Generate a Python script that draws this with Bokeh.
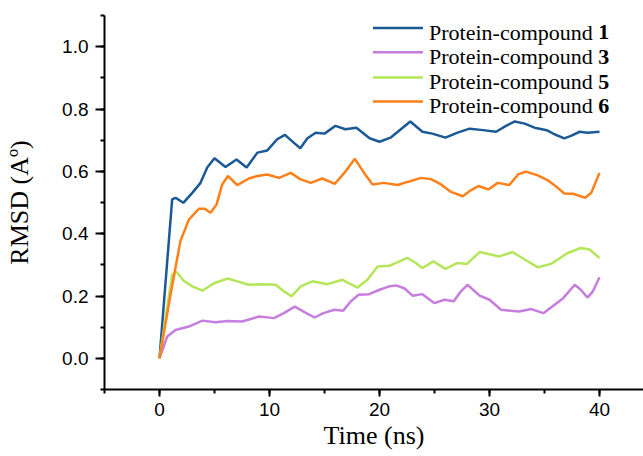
from bokeh.plotting import figure
from bokeh.models import Range1d, SingleIntervalTicker, PrintfTickFormatter, Label
from bokeh.embed import file_html
from bokeh.resources import INLINE

# ---- data ----
t1 = [0, 1.15, 1.46, 2.16, 2.98, 3.73, 4.34, 5.0, 6.0, 7.0, 7.92, 8.9, 9.8, 10.7, 11.4, 12.2, 12.8, 13.45,
      14.2, 15.0, 16.0, 16.9, 17.9, 19.1, 20.0, 21.0, 22.8, 23.9, 24.8, 26.0, 27.1, 28.2, 29.2, 30.6, 31.5,
      32.3, 33.2, 34.1, 35.2, 35.9, 36.8, 37.4, 38.2, 38.9, 40.0]
v1 = [0, 0.51, 0.515, 0.499, 0.531, 0.563, 0.612, 0.642, 0.614, 0.638, 0.612, 0.66, 0.667, 0.703, 0.717,
      0.692, 0.674, 0.706, 0.724, 0.721, 0.746, 0.735, 0.740, 0.706, 0.695, 0.708, 0.760, 0.727, 0.721, 0.708,
      0.724, 0.737, 0.733, 0.727, 0.746, 0.760, 0.753, 0.740, 0.732, 0.719, 0.706, 0.714, 0.727, 0.724, 0.727]

t3 = [0, 0.7, 1.46, 2.67, 3.9, 5.1, 6.2, 7.5, 9.04, 10.4, 11.3, 12.3, 13.1, 14.1, 14.9, 15.9, 16.7, 17.4,
      18.1, 19.06, 20.0, 20.9, 21.5, 22.25, 23.0, 23.9, 25.0, 25.9, 26.75, 27.4, 28.0, 29.1, 30.0, 31.05,
      32.7, 33.8, 34.9, 36.7, 37.75, 38.3, 38.9, 39.4, 40.0]
v3 = [0, 0.070, 0.091, 0.102, 0.121, 0.116, 0.120, 0.118, 0.134, 0.129, 0.145, 0.166, 0.150, 0.131, 0.145,
      0.156, 0.153, 0.183, 0.204, 0.206, 0.220, 0.231, 0.234, 0.225, 0.201, 0.206, 0.177, 0.188, 0.183,
      0.215, 0.236, 0.201, 0.188, 0.156, 0.150, 0.158, 0.145, 0.193, 0.236, 0.220, 0.195, 0.215, 0.260]

t5 = [0, 1.15, 1.55, 2.2, 2.98, 3.9, 4.95, 6.2, 7.07, 8.1, 9.35, 10.56, 11.3, 12.0, 12.84, 13.9, 15.27,
      16.64, 18.0, 18.9, 19.83, 20.9, 21.5, 22.55, 23.3, 23.9, 24.9, 26.0, 27.1, 27.96, 29.1, 30.9, 32.1,
      33.2, 34.4, 35.6, 37.1, 38.3, 39.1, 40.0]
v5 = [0, 0.268, 0.277, 0.249, 0.231, 0.217, 0.241, 0.256, 0.247, 0.236, 0.238, 0.236, 0.215, 0.199, 0.231,
      0.247, 0.238, 0.252, 0.227, 0.252, 0.295, 0.297, 0.306, 0.322, 0.306, 0.290, 0.311, 0.287, 0.306,
      0.303, 0.341, 0.327, 0.341, 0.317, 0.292, 0.303, 0.338, 0.354, 0.349, 0.322]

t6 = [0, 1.0, 1.9, 2.67, 3.58, 4.1, 4.64, 5.19, 5.7, 6.22, 7.07, 8.13, 8.9, 9.8, 10.87, 11.93, 12.84, 13.75,
      14.8, 15.94, 16.8, 17.76, 18.6, 19.37, 20.4, 21.65, 22.55, 23.77, 24.68, 25.6, 26.5, 27.57, 28.3, 29.0,
      29.9, 30.75, 31.8, 32.6, 33.3, 34.4, 35.3, 36.2, 36.8, 37.6, 38.7, 39.25, 40.0]
v6 = [0, 0.204, 0.376, 0.445, 0.48, 0.48, 0.467, 0.494, 0.558, 0.585, 0.556, 0.577, 0.585, 0.590, 0.579,
      0.595, 0.574, 0.563, 0.577, 0.560, 0.595, 0.640, 0.595, 0.558, 0.563, 0.556, 0.566, 0.579, 0.575, 0.558,
      0.534, 0.520, 0.539, 0.553, 0.542, 0.563, 0.556, 0.590, 0.599, 0.587, 0.571, 0.547, 0.529, 0.528, 0.515,
      0.531, 0.595]

series_names = ["1", "3", "5", "6"]
series_t = [t1, t3, t5, t6]
series_v = [v1, v3, v5, v6]
colors = ["#1A5896", "#C77DDD", "#B5E65A", "#FF8019"]
legend_prefix = "Protein-compound "

# ---- figure ----
p = figure(width=643, height=456, x_range=Range1d(-5, 44), y_range=Range1d(-0.1, 1.1),
           output_backend="svg", toolbar_location=None,
           min_border_left=104, min_border_right=0, min_border_top=15, min_border_bottom=67)
p.xgrid.visible = False
p.ygrid.visible = False
p.outline_line_color = None
p.background_fill_color = "white"

for t, v, c in zip(series_t, series_v, colors):
    p.line(t, v, line_color=c, line_width=2.5)

p.xaxis.ticker = SingleIntervalTicker(interval=10, num_minor_ticks=2)
p.yaxis.ticker = SingleIntervalTicker(interval=0.2, num_minor_ticks=2)
p.yaxis.formatter = PrintfTickFormatter(format="%.1f")

for ax in (p.xaxis, p.yaxis):
    ax.axis_line_width = 2
    ax.axis_line_color = "black"
    ax.major_tick_line_width = 2
    ax.minor_tick_line_width = 2
    ax.major_tick_line_color = "black"
    ax.minor_tick_line_color = "black"
    ax.major_tick_in = 0
    ax.minor_tick_in = 0
    ax.major_label_text_font = "Liberation Sans"
    ax.major_label_text_font_size = "19px"
    ax.major_label_text_color = "black"
    ax.axis_label_text_font = "Liberation Serif"
    ax.axis_label_text_font_size = "26px"
    ax.axis_label_text_font_style = "normal"
    ax.axis_label_text_color = "black"

p.xaxis.major_tick_out = 7
p.xaxis.minor_tick_out = 4
p.yaxis.major_tick_out = 9
p.yaxis.minor_tick_out = 4
p.xaxis.major_label_standoff = 6
p.yaxis.major_label_standoff = 7
p.xaxis.axis_label = "Time (ns)"
p.yaxis.axis_label = "RMSD (A\u00ba)"
p.xaxis.axis_label_standoff = 2
p.yaxis.axis_label_standoff = 25

# ---- manual legend (layout constants in data units) ----
LEG_X0, LEG_X1 = 19.4, 23.95
LEG_TEXT_X = 24.5
LEG_NUM_X = 39.89
LEG_ROWS = [1.060, 0.982, 0.901, 0.824]
for name, c, yy in zip(series_names, colors, LEG_ROWS):
    p.segment(x0=[LEG_X0], y0=[yy], x1=[LEG_X1], y1=[yy], line_color=c, line_width=2.5)
    p.add_layout(Label(x=LEG_TEXT_X, y=yy - 0.014, text=legend_prefix, text_font="Liberation Serif",
                       text_font_size="22px", text_color="black", text_baseline="alphabetic"))
    p.add_layout(Label(x=LEG_NUM_X, y=yy - 0.014, text=name, text_font="Liberation Serif",
                       text_font_size="22px", text_font_style="bold", text_color="black",
                       text_baseline="alphabetic"))

open("out.html", "w").write(file_html(p, INLINE))
